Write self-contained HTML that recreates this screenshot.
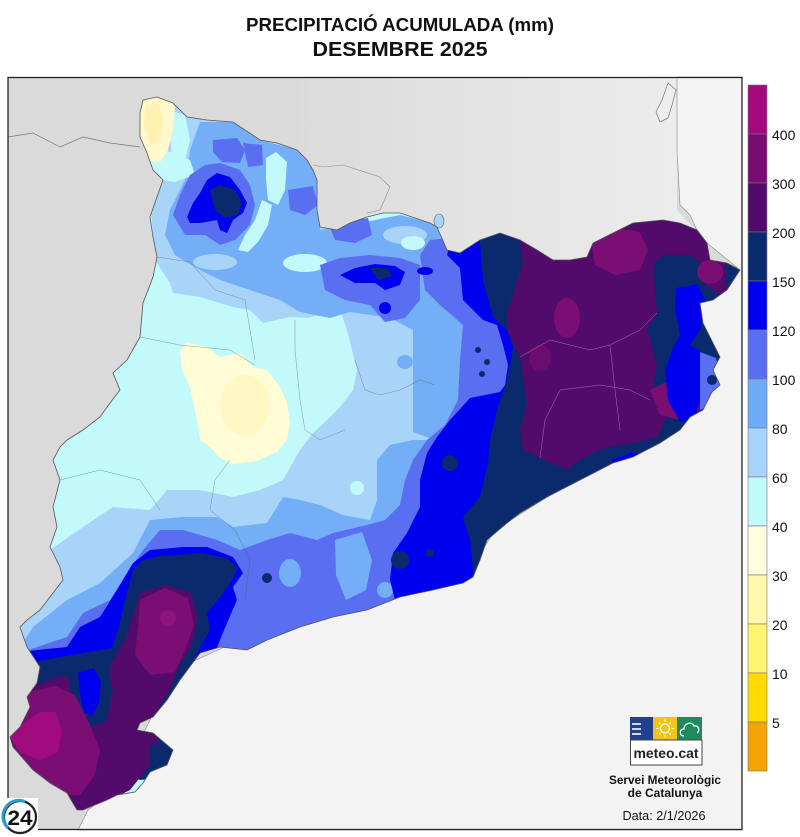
<!DOCTYPE html>
<html><head><meta charset="utf-8"><style>
html,body{margin:0;padding:0;background:#fff;}
svg{display:block;}
text{font-family:"Liberation Sans",Arial,sans-serif;}
</style></head><body>
<svg width="800" height="837" viewBox="0 0 800 837" xmlns="http://www.w3.org/2000/svg">
<defs>
<clipPath id="cat"><polygon points="143,100 157,97 173,103 187,117 207,120 233,122 260,140 277,143 297,150 307,160 313,170 317,180 317,210 320,227 337,230 350,223 367,217 383,213 400,213 430,223 437,227 447,250 460,253 480,240 500,233 520,240 537,250 553,260 570,260 587,257 593,243 613,233 633,223 663,220 680,223 697,230 707,243 710,260 727,263 740,270 727,290 713,300 700,303 703,323 713,343 720,357 713,370 720,385 712,392 703,410 690,417 680,430 660,443 633,457 613,463 580,480 547,497 520,513 507,523 487,540 480,560 473,577 463,583 433,590 400,597 367,610 333,617 300,627 267,640 247,650 220,647 200,653 180,680 167,700 153,717 140,723 137,730 153,733 173,750 167,765 150,772 143,783 135,792 117,795 107,800 90,807 83,810 77,810 67,793 50,783 33,770 13,747 10,737 20,727 30,707 27,697 37,683 40,667 27,647 20,627 27,620 40,610 50,597 63,580 60,567 50,547 57,527 53,507 60,480 53,460 60,447 67,440 83,430 100,417 110,403 120,390 113,373 127,360 140,337 143,303 153,277 157,257 153,237 150,217 157,197 163,180 153,170 147,153 140,137 140,113"/></clipPath>
<linearGradient id="fr" x1="300" y1="0" x2="680" y2="0" gradientUnits="userSpaceOnUse">
<stop offset="0" stop-color="#dbdbdb"/><stop offset="0.4" stop-color="#e2e2e2"/><stop offset="1" stop-color="#ececec"/>
</linearGradient>
</defs>

<!-- Title -->
<text x="400" y="31" text-anchor="middle" font-size="18" font-weight="bold" fill="#111" textLength="308" lengthAdjust="spacingAndGlyphs">PRECIPITACIÓ ACUMULADA (mm)</text>
<text x="400" y="56" text-anchor="middle" font-size="20" font-weight="bold" fill="#111" textLength="175" lengthAdjust="spacingAndGlyphs">DESEMBRE 2025</text>

<!-- Map background land -->
<rect x="8" y="77" width="734" height="753" fill="#dadada"/>
<polygon points="300,77 677,77 677,210 700,235 712,270 300,270" fill="url(#fr)"/>
<!-- Sea -->
<polygon points="677,77 742,77 742,830 78,830 88,810 120,785 140,740 160,700 185,665 240,640 300,620 400,590 470,570 495,530 590,470 670,430 700,400 710,350 698,305 740,270 707,243 697,230 690,215 680,205 677,150" fill="#f3f3f3" stroke="#888" stroke-width="0.6"/>
<polygon points="668,83 676,90 672,105 668,118 660,122 656,112 662,100" fill="#eeeeee" stroke="#777" stroke-width="0.7"/>
<!-- border lines in gray land -->
<polyline points="8,137 33,133 60,147 83,137 110,143 140,147" fill="none" stroke="#777" stroke-width="0.7"/>
<polyline points="313,165 323,167 343,165 380,177 390,187 380,210 367,213" fill="none" stroke="#888" stroke-width="0.6"/>
<ellipse cx="439" cy="221" rx="5" ry="7" fill="#a9d4f9" stroke="#666" stroke-width="0.6"/>

<!-- Catalonia precipitation -->
<g clip-path="url(#cat)">
<rect x="0" y="80" width="760" height="760" fill="#c2f9fb"/>
<!-- 60-80 -->
<polygon fill="#a9d4f9" points="160,105 330,105 330,225 420,225 470,225 475,480 430,540 390,600 330,625 60,660 0,660 0,620 20,610 50,550 83,527 113,507 150,510 167,490 200,490 233,497 260,490 283,480 300,450 313,433 327,420 340,407 353,390 357,370 347,330 340,310 307,318 290,317 263,323 250,310 233,307 200,297 173,293 170,283 155,260 150,200 165,170"/>
<!-- 80-100 -->
<polygon fill="#74aef7" points="200,122 233,122 260,140 297,150 320,165 320,230 350,225 400,215 440,225 460,245 470,300 470,440 440,442 413,432 413,330 390,318 350,312 330,318 300,312 280,300 250,290 220,280 200,270 175,255 165,235 170,210 185,180 190,150"/>
<polygon fill="#74aef7" points="0,652 20,647 33,627 67,600 100,583 133,553 150,520 183,517 217,517 233,527 267,523 283,497 300,500 320,505 343,515 370,520 377,500 377,460 390,445 413,440 440,440 500,400 500,700 0,700"/>
<circle cx="357" cy="488" r="7" fill="#c2f9fb"/>
<ellipse cx="405" cy="362" rx="8" ry="7" fill="#74aef7"/>
<!-- light patches Pyrenees -->
<ellipse cx="305" cy="263" rx="22" ry="9" fill="#c2f9fb"/>
<ellipse cx="215" cy="262" rx="22" ry="8" fill="#a9d4f9"/>
<ellipse cx="405" cy="235" rx="22" ry="9" fill="#a9d4f9"/>
<ellipse cx="413" cy="243" rx="12" ry="7" fill="#c2f9fb"/>
<!-- cyan valleys -->
<polygon fill="#c2f9fb" points="266,158 276,152 287,162 285,190 278,205 268,200 266,180"/>
<polygon fill="#c2f9fb" points="262,200 272,205 268,225 258,242 248,252 238,250 245,235 255,220"/>
<polygon fill="#c2f9fb" points="140,150 165,150 190,160 195,175 175,182 150,178"/>
<polygon fill="#c2f9fb" points="168,110 185,115 190,140 185,160 172,158"/>
<!-- cream -->
<polygon fill="#fffcd6" points="180,350 187,343 207,347 220,357 240,353 253,367 267,370 280,387 287,403 290,423 287,440 277,452 257,461 233,464 220,458 210,447 200,440 197,420 190,387 182,370"/>
<ellipse cx="245" cy="405" rx="25" ry="30" fill="#fff8c4"/>
<polygon fill="#fff8cc" points="137,98 160,96 175,106 173,130 168,150 160,162 146,160 138,140"/>
<polygon fill="#fff2b0" points="145,105 158,103 163,120 160,140 150,145 144,125"/>
<!-- 100-120 -->
<polygon fill="#5a6ef2" points="0,660 37,647 67,637 83,613 110,600 127,573 143,550 160,530 183,530 217,540 240,550 267,540 290,533 317,540 333,533 367,525 385,520 400,505 405,480 413,460 427,440 445,425 458,400 460,360 463,325 440,305 425,290 420,255 430,240 800,200 800,700 0,720"/>
<ellipse cx="290" cy="573" rx="11" ry="14" fill="#74aef7"/>
<polygon fill="#74aef7" points="335,540 362,532 372,560 366,590 346,600 336,575"/>
<ellipse cx="385" cy="590" rx="8" ry="8" fill="#74aef7"/>
<circle cx="267" cy="578" r="5" fill="#0b2a6e"/>
<polygon fill="#5a6ef2" points="173,215 180,195 190,175 205,165 220,163 240,170 250,185 255,205 250,225 235,240 220,245 205,235 185,235"/>
<polygon fill="#5a6ef2" points="213,140 237,138 245,150 240,163 222,162 213,152"/>
<polygon fill="#5a6ef2" points="243,143 262,145 263,165 248,167"/>
<polygon fill="#5a6ef2" points="288,190 313,186 318,205 305,215 290,210"/>
<polygon fill="#5a6ef2" points="320,265 340,258 370,255 400,258 420,265 420,300 405,318 385,322 370,305 345,300 325,290"/>
<polygon fill="#5a6ef2" points="330,228 345,222 368,218 372,235 355,243 335,240"/>
<!-- 120-150 -->
<polygon fill="#0000ee" points="0,655 37,650 67,647 80,627 100,617 117,590 133,563 150,550 183,547 207,547 233,557 243,573 233,587 237,600 227,623 220,640 210,665 200,700 150,760 0,780"/>
<polygon fill="#0000ee" points="455,200 455,225 447,255 460,268 463,300 483,320 497,325 503,345 508,365 505,385 500,392 470,398 450,420 437,437 427,453 420,480 420,507 407,533 393,553 390,580 395,600 800,600 800,200"/>
<polygon fill="#0000ee" points="187,217 193,203 200,193 207,180 217,173 230,177 240,190 247,203 243,213 233,220 227,233 220,230 217,220 200,223 190,223"/>
<polygon fill="#0000ee" points="340,275 355,268 375,264 395,266 405,272 400,285 385,290 375,283 355,283"/>
<ellipse cx="425" cy="271" rx="8" ry="4" fill="#0000ee"/>
<circle cx="385" cy="308" r="6" fill="#0000ee"/>
<!-- 150-200 -->
<polygon fill="#0b2a6e" points="480,200 480,243 483,280 493,317 507,330 513,347 507,380 497,410 490,440 488,463 480,497 463,517 470,540 473,570 470,600 800,600 800,200"/>
<circle cx="450" cy="463" r="8" fill="#0b2a6e"/>
<circle cx="400" cy="560" r="9" fill="#0b2a6e"/>
<circle cx="430" cy="553" r="4" fill="#0b2a6e"/>
<circle cx="478" cy="350" r="3" fill="#0b2a6e"/>
<circle cx="487" cy="362" r="3" fill="#0b2a6e"/>
<circle cx="482" cy="374" r="3" fill="#0b2a6e"/>
<polygon fill="#0b2a6e" points="210,190 220,185 235,190 242,203 238,215 225,218 215,210"/>
<polygon fill="#0b2a6e" points="370,268 388,268 392,276 378,280"/>
<polygon fill="#0b2a6e" points="133,570 143,560 160,556 200,553 227,558 238,568 230,583 220,597 207,613 210,630 200,647 190,670 175,700 160,720 185,740 185,775 140,780 30,720 30,690 35,662 60,657 90,652 112,648 118,630 125,600"/>
<!-- 200-300 -->
<polygon fill="#520a6b" points="515,200 520,243 523,263 507,313 507,330 520,357 527,403 520,430 523,450 540,458 567,470 580,460 607,447 633,443 657,437 667,417 653,387 657,363 647,330 657,313 653,263 665,255 690,255 700,262 705,285 720,295 745,295 745,200"/>
<polygon fill="#520a6b" points="0,688 40,684 60,676 80,678 95,698 105,688 112,662 125,640 133,615 140,593 165,585 190,592 198,615 192,645 178,668 170,690 160,705 152,722 158,742 150,765 130,790 100,805 80,815 0,800"/>
<polygon fill="#0b2a6e" points="68,668 105,660 113,690 106,722 86,728 72,702"/>
<polygon fill="#0000ee" points="78,672 94,668 101,682 99,702 92,716 84,712 80,695"/>
<!-- 300-400 -->
<polygon fill="#7a0e73" points="590,235 615,228 640,232 648,250 640,270 615,275 595,265"/>
<ellipse cx="567" cy="318" rx="13" ry="20" fill="#7a0e73"/>
<ellipse cx="540" cy="358" rx="11" ry="13" fill="#6a0c70"/>
<polygon fill="#7a0e73" points="650,390 670,380 695,388 700,410 680,420 660,415"/>
<ellipse cx="710" cy="272" rx="13" ry="12" fill="#7a0e73"/>
<polygon fill="#7a0e73" points="140,600 165,588 188,598 194,625 185,650 175,672 150,675 135,655 138,625"/>
<circle cx="168" cy="618" r="8" fill="#8c137a"/>
<polygon fill="#7a0e73" points="25,692 55,686 75,695 90,725 100,750 95,775 80,795 60,795 40,780 20,760 12,740 20,715"/>
<polygon fill="#a00c80" points="10,737 22,725 40,712 55,712 62,730 58,752 40,760 20,752"/>
<!-- NE navy/blue coast -->
<polygon fill="#0b2a6e" points="725,260 745,262 745,285 725,286"/>
<polygon fill="#0000ee" points="676,288 698,284 705,300 700,330 690,345 700,350 700,400 695,418 680,422 668,400 665,370 672,350 680,335 675,310"/>
<polygon fill="#5a6ef2" points="700,352 716,358 722,385 712,405 700,410"/>
<circle cx="712" cy="380" r="5" fill="#0b2a6e"/>
<polygon fill="#0000ee" points="612,460 632,452 642,455 625,470 612,470"/>
<polygon fill="#0b2a6e" points="150,745 180,745 180,772 150,772"/>
</g>
<!-- Catalonia outline -->
<polygon fill="none" stroke="#555" stroke-width="0.8" points="143,100 157,97 173,103 187,117 207,120 233,122 260,140 277,143 297,150 307,160 313,170 317,180 317,210 320,227 337,230 350,223 367,217 383,213 400,213 430,223 437,227 447,250 460,253 480,240 500,233 520,240 537,250 553,260 570,260 587,257 593,243 613,233 633,223 663,220 680,223 697,230 707,243 710,260 727,263 740,270 727,290 713,300 700,303 703,323 713,343 720,357 713,370 720,385 712,392 703,410 690,417 680,430 660,443 633,457 613,463 580,480 547,497 520,513 507,523 487,540 480,560 473,577 463,583 433,590 400,597 367,610 333,617 300,627 267,640 247,650 220,647 200,653 180,680 167,700 153,717 140,723 137,730 153,733 173,750 167,765 150,772 143,783 135,792 117,795 107,800 90,807 83,810 77,810 67,793 50,783 33,770 13,747 10,737 20,727 30,707 27,697 37,683 40,667 27,647 20,627 27,620 40,610 50,597 63,580 60,567 50,547 57,527 53,507 60,480 53,460 60,447 67,440 83,430 100,417 110,403 120,390 113,373 127,360 140,337 143,303 153,277 157,257 153,237 150,217 157,197 163,180 153,170 147,153 140,137 140,113"/>
<!-- a few internal borders -->
<g fill="none" stroke="#555" stroke-width="0.5" opacity="0.6">
<polyline points="140,337 180,345 230,350 255,365"/>
<polyline points="157,257 190,262 215,290 245,300 250,330 255,360"/>
<polyline points="230,460 215,480 210,510 235,530 250,560 245,600"/>
<polyline points="295,320 295,350 300,400 305,430 320,440 345,430"/>
<polyline points="355,360 365,390 380,395 400,390 420,380 435,385"/>
<polyline points="60,480 100,470 140,480 160,510"/>
</g>
<g fill="none" stroke="#c9a3cf" stroke-width="0.5" opacity="0.7">
<polyline points="520,357 550,340 590,350 610,345 640,330 657,313"/>
<polyline points="540,458 545,420 560,390 600,385 630,390 650,400"/>
<polyline points="610,345 615,390 620,430"/>
</g>

<!-- frame -->
<rect x="8" y="77.5" width="734" height="752" fill="none" stroke="#222" stroke-width="1.3"/>

<!-- Colorbar -->
<g stroke="#777" stroke-width="0.6">
<rect x="748" y="85" width="19" height="49" fill="#a3087f"/>
<rect x="748" y="134" width="19" height="49" fill="#780c72"/>
<rect x="748" y="183" width="19" height="49" fill="#4f0a6a"/>
<rect x="748" y="232" width="19" height="49" fill="#0b2a6e"/>
<rect x="748" y="281" width="19" height="49" fill="#0000ee"/>
<rect x="748" y="330" width="19" height="49" fill="#5a6ef2"/>
<rect x="748" y="379" width="19" height="49" fill="#6fabf7"/>
<rect x="748" y="428" width="19" height="49" fill="#a9d4f9"/>
<rect x="748" y="477" width="19" height="49" fill="#c2f9fb"/>
<rect x="748" y="526" width="19" height="49" fill="#fffde0"/>
<rect x="748" y="575" width="19" height="49" fill="#fff8ac"/>
<rect x="748" y="624" width="19" height="49" fill="#fff56e"/>
<rect x="748" y="673" width="19" height="49" fill="#ffdc00"/>
<rect x="748" y="722" width="19" height="49" fill="#f4a400"/>
</g>
<g font-size="14" fill="#111">
<text x="772" y="140">400</text>
<text x="772" y="189">300</text>
<text x="772" y="238">200</text>
<text x="772" y="287">150</text>
<text x="772" y="336">120</text>
<text x="772" y="385">100</text>
<text x="772" y="434">80</text>
<text x="772" y="483">60</text>
<text x="772" y="532">40</text>
<text x="772" y="581">30</text>
<text x="772" y="630">20</text>
<text x="772" y="679">10</text>
<text x="772" y="728">5</text>
</g>

<!-- meteo.cat logo -->
<rect x="630" y="717" width="23" height="23" fill="#23408f"/>
<g stroke="#fff" stroke-width="1.6">
<line x1="632" y1="724" x2="641" y2="724"/>
<line x1="632" y1="729" x2="641" y2="729"/>
<line x1="632" y1="734" x2="641" y2="734"/>
</g>
<rect x="653" y="717" width="24" height="23" fill="#f2c318"/>
<circle cx="665" cy="728.5" r="4.5" fill="none" stroke="#fff" stroke-width="1.2"/>
<g stroke="#fff" stroke-width="1.1">
<line x1="665" y1="719.5" x2="665" y2="722"/><line x1="665" y1="735" x2="665" y2="737.5"/>
<line x1="656" y1="728.5" x2="658.5" y2="728.5"/><line x1="671.5" y1="728.5" x2="674" y2="728.5"/>
<line x1="659" y1="722.5" x2="660.5" y2="724"/><line x1="669.5" y1="733" x2="671" y2="734.5"/>
<line x1="671" y1="722.5" x2="669.5" y2="724"/><line x1="660.5" y1="733" x2="659" y2="734.5"/>
</g>
<rect x="677" y="717" width="25" height="23" fill="#1d8b5b"/>
<path d="M684,736 C679,736 679,729 684,729 C684,723 692,721 694,726 C699,725 700,731 697,733" fill="none" stroke="#fff" stroke-width="1.3"/>
<rect x="630.5" y="740" width="71.5" height="25" fill="#fff" stroke="#444" stroke-width="1"/>
<text x="666" y="758" text-anchor="middle" font-size="14" font-weight="bold" fill="#222" textLength="65" lengthAdjust="spacingAndGlyphs">meteo.cat</text>
<text x="665" y="784" text-anchor="middle" font-size="12" font-weight="bold" fill="#111" textLength="112" lengthAdjust="spacingAndGlyphs">Servei Meteorològic</text>
<text x="665" y="797" text-anchor="middle" font-size="12" font-weight="bold" fill="#111">de Catalunya</text>
<text x="664" y="820" text-anchor="middle" font-size="12.5" fill="#111" textLength="83" lengthAdjust="spacingAndGlyphs">Data: 2/1/2026</text>

<!-- 24 logo -->
<rect x="0" y="798" width="38" height="39" fill="#fff"/>
<circle cx="20" cy="817" r="16" fill="#fff" stroke="#222" stroke-width="2.2"/>
<path d="M8,828 A16,16 0 0 1 25,801.5" fill="none" stroke="#2a9fcf" stroke-width="3"/>
<text x="20" y="825" text-anchor="middle" font-size="21" font-weight="bold" fill="#111" textLength="25" lengthAdjust="spacingAndGlyphs">24</text>
</svg>
</body></html>
